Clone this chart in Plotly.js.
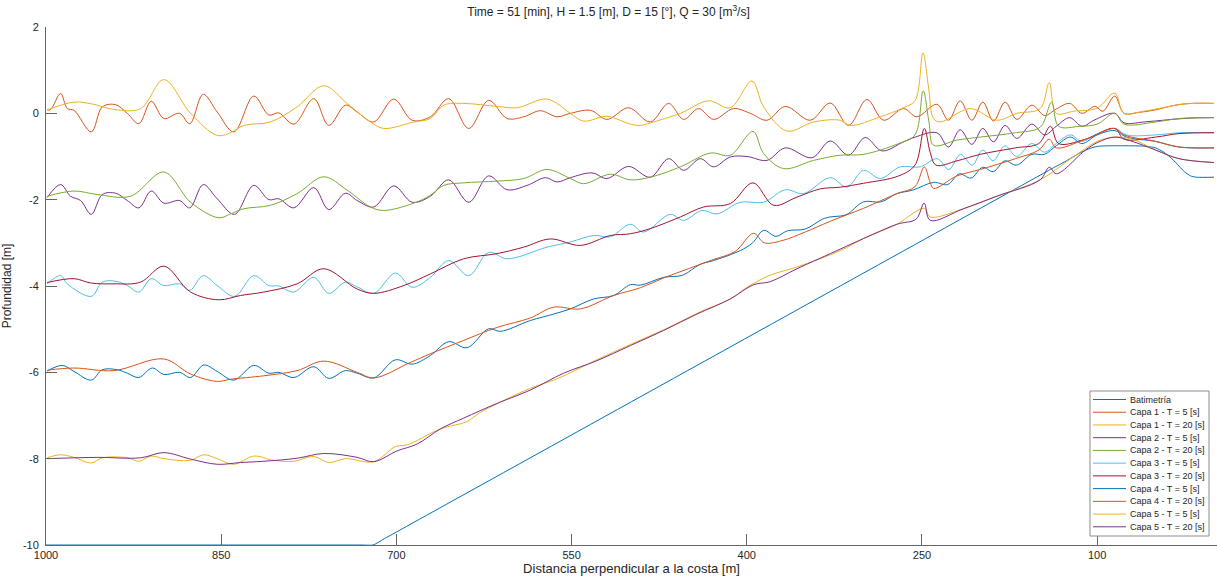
<!DOCTYPE html>
<html>
<head>
<meta charset="utf-8">
<script src="https://cdn.plot.ly/plotly-3.0.1.min.js"></script>
<style>html,body{margin:0;padding:0;background:#fff;}#chart{width:1217px;height:580px;}</style>
</head>
<body>
<div id="chart"></div>
<script>
// ---------- data (distance [m], depth [m]) ----------
const seriesNames = ["Batimetría","Capa 1 - T = 5 [s]","Capa 1 - T = 20 [s]","Capa 2 - T = 5 [s]","Capa 2 - T = 20 [s]","Capa 3 - T = 5 [s]","Capa 3 - T = 20 [s]","Capa 4 - T = 5 [s]","Capa 4 - T = 20 [s]","Capa 5 - T = 5 [s]","Capa 5 - T = 20 [s]"];
const seriesColors = ["#0072BD","#D95319","#EDB120","#7E2F8E","#77AC30","#4DBEEE","#A2142F","#0072BD","#D95319","#EDB120","#7E2F8E"];
const xTicks = [1000,850,700,550,400,250,100];
const yTicks = [-10,-8,-6,-4,-2,0,2];

const batX = [1000,730,720,710,160,140,125,115,105,98,60,50,43,36,30,25,20,15,0];
const batY = [-10,-10,-10,-9.85,-1.6,-1.3,-1.08,-0.92,-0.8,-0.76,-0.76,-0.8,-0.9,-1.05,-1.22,-1.36,-1.45,-1.48,-1.48];

const c1t5X = [999,996,987.5,981.8,976,961.2,951.8,940.4,930.4,920.5,909.9,899.1,885.7,876.9,865.4,853.4,839.2,822.1,809.2,800.7,787.8,770.7,757.9,743.6,733.6,719.4,702.3,686.5,670.9,655.2,638.1,621,605.2,591,576.7,562.4,551,533.9,519.6,501.2,482.6,466.9,454.1,441.3,428.4,411.3,397,382.7,367,345.6,328.5,312.9,297.1,282.9,265.8,254.4,237.2,227.3,217.3,207.3,197.9,188.8,178.8,168.8,155.9,145,135,123.5,113,102,95,85,77,65,50,35,20,0];
const c1t5Y = [0.08,0.09,0.46,0.11,0.07,-0.43,0.15,0.20,0.0,-0.24,0.28,-0.12,0.0,-0.24,0.44,0.03,-0.43,0.40,-0.04,0.01,-0.25,0.34,-0.28,0.19,0.03,-0.20,0.33,-0.16,-0.08,0.34,-0.35,0.30,-0.12,-0.08,0.06,-0.08,0.0,0.07,-0.14,0.13,-0.20,0.23,-0.14,0.11,-0.14,0.11,0.0,-0.16,0.16,-0.16,0.24,-0.28,0.32,-0.16,0.11,-0.08,0.21,-0.16,0.29,-0.16,0.26,-0.18,0.26,-0.14,0.19,-0.05,0.1,0.23,0.0,0.16,0.05,0.4,0.0,0.02,0.08,0.18,0.23,0.23];

const c1t20X = [999,976,961,941.9,919,899.1,876.2,853.4,842,830.6,807.8,785,762.2,742.2,722.2,710.8,685.1,670.9,659.5,642.4,613.8,596.7,571,551,539.7,519.6,499.7,491,482.6,456.9,432.7,414.1,395.6,385.6,365.6,342.8,320,311.4,285.7,265.8,255.8,249.2,244.4,240.1,234.4,208.7,185.9,168.8,148.8,141,135,120,100,85,77,60,40,25,0];
const c1t20Y = [0.08,0.26,0.22,0.09,0.11,0.78,0.0,-0.51,-0.45,-0.28,-0.2,0.15,0.64,0.23,-0.2,-0.35,-0.2,-0.12,0.19,0.23,0.16,0.13,0.33,0.0,-0.18,-0.07,-0.25,-0.28,-0.22,0.0,0.29,0.13,0.75,0.15,-0.41,-0.2,-0.16,-0.28,-0.08,0.13,0.3,1.40,0.61,-0.12,-0.2,0.11,-0.16,0.0,0.11,0.71,0.0,0.05,0.12,0.47,0.0,0.05,0.15,0.22,0.23];

const c2t5X = [999,987.5,979,970.4,961.2,951.8,940.4,930.4,920.5,909.9,899.1,885.7,876.9,865.4,853.4,838.6,822.1,809.2,800.7,787.8,770.7,757.9,743.6,733.6,719.4,702.3,686.5,670.9,655.2,638.1,621,605.2,588.1,572.4,562.4,551,532.5,519.6,501.2,482.6,466.9,454.1,439.8,428.4,414.1,399.8,382.7,367,344.2,328.5,312.9,298.6,284.3,265.8,255.8,237.2,227.3,217.3,207.3,197.9,188.8,178.8,168.8,155.9,145,135,123.5,113,102,85,77,60,40,20,0];
const c2t5Y = [-1.95,-1.65,-1.92,-2.02,-2.34,-1.88,-1.85,-2.02,-2.19,-1.80,-2.08,-2.02,-2.19,-1.65,-1.98,-2.34,-1.67,-2.0,-1.98,-2.19,-1.72,-2.23,-1.85,-2.02,-2.17,-1.68,-2.06,-1.92,-1.54,-2.06,-1.45,-1.77,-1.67,-1.49,-1.59,-1.49,-1.38,-1.51,-1.23,-1.48,-1.05,-1.32,-1.05,-1.24,-1.01,-1.0,-1.09,-0.80,-1.03,-0.64,-0.97,-0.56,-0.87,-0.66,-0.55,-0.45,-0.78,-0.38,-0.72,-0.35,-0.66,-0.28,-0.58,-0.25,-0.5,-0.3,-0.1,-0.3,-0.15,0.0,-0.22,-0.2,-0.15,-0.11,-0.1];

const c2t20X = [999,976,956.1,927.6,899.1,876.2,852,842,830.6,807.8,785,762.2,742.2,722.2,710.8,685.1,670.9,659.5,642.4,613.8,591,571,551,539.7,516.8,499.7,482.6,456.9,431.2,414.1,394.7,385.6,368.5,342.8,320,300,270,256,249,244,240,220,200,170,148.8,139,133,115,100,85,77,50,30,0];
const c2t20Y = [-1.92,-1.80,-1.88,-1.92,-1.36,-2.06,-2.42,-2.33,-2.21,-2.13,-1.86,-1.47,-1.78,-2.17,-2.25,-2.08,-1.90,-1.67,-1.61,-1.57,-1.51,-1.30,-1.51,-1.63,-1.41,-1.54,-1.48,-1.24,-0.92,-0.97,-0.42,-0.93,-1.28,-1.09,-0.97,-0.95,-0.7,-0.5,0.52,-0.2,-0.74,-0.62,-0.55,-0.45,-0.32,0.26,-0.3,-0.3,-0.25,0.0,-0.25,-0.2,-0.12,-0.1];

const c3t5X = [999,987.5,981.8,961.2,951.8,940.4,930.4,920.5,909.9,899.1,885.7,876.9,865.4,853.4,838.6,822.1,809.2,800.7,787.8,770.7,757.9,743.6,733.6,719.4,700.8,686.5,670.9,655.2,638.1,621,605.2,571,551,531.1,516.8,499.7,488.3,465.5,454.1,438.3,425.5,405.6,385.6,367,351.4,328.5,314.2,300,285.7,268.6,251.5,237,227,217,207,198,189,179,169,156,145,135,123,113,102,85,75,50,30,0];
const c3t5Y = [-3.95,-3.76,-3.95,-4.24,-3.91,-3.89,-3.99,-4.14,-3.83,-3.99,-3.95,-4.10,-3.76,-3.99,-4.24,-3.76,-3.99,-4.0,-4.14,-3.80,-4.17,-3.91,-4.02,-4.17,-3.70,-4.03,-3.80,-3.41,-3.76,-3.22,-3.37,-3.10,-2.98,-2.83,-2.86,-2.57,-2.75,-2.34,-2.48,-2.25,-2.33,-2.06,-2.06,-1.77,-1.86,-1.49,-1.71,-1.32,-1.51,-1.24,-1.24,-1.05,-1.3,-0.95,-1.2,-0.85,-1.1,-0.75,-1.0,-0.7,-0.9,-0.7,-0.5,-0.65,-0.5,-0.35,-0.5,-0.5,-0.45,-0.45];

const c3t20X = [999,976,961.8,941.9,919,899.1,876.2,852,833.5,813.5,785,762.2,733.6,719.4,693.7,670.9,642.4,613.8,591,568.2,542.5,516.8,499.7,482.6,456.9,437,414.1,394.7,377,357,337.1,320,300,270,256,248,243,238,220,200,170,150,140,133,110,85,77,50,30,0];
const c3t20Y = [-3.92,-3.83,-3.93,-3.95,-3.91,-3.54,-4.14,-4.32,-4.22,-4.14,-3.95,-3.60,-4.07,-4.17,-3.99,-3.72,-3.37,-3.25,-3.10,-2.91,-3.06,-2.83,-2.79,-2.67,-2.40,-2.17,-2.09,-1.61,-2.13,-1.94,-1.75,-1.71,-1.62,-1.45,-1.2,-0.35,-0.9,-1.2,-1.1,-0.95,-0.8,-0.7,-0.3,-0.7,-0.6,-0.35,-0.6,-0.55,-0.47,-0.45];

const c4t5X = [999,986,976,961.2,951.8,939,930.4,920.5,909,899.1,885.7,876.2,864.9,853.4,839.2,822.1,809.2,800.7,787.8,770.7,757.9,743.6,733.6,719.4,700.8,686.5,670.9,655.2,639.5,621,611,585.3,565.3,551,531.1,514,499.7,491.1,471.2,455,440,428.4,405.6,395,385.6,375,365,350,335,328.5,315,300,285,271.5,258,240,228,218,208,198,189,179,169,156,145,135,123,113,100,85,75,50,30,0];
const c4t5Y = [-5.97,-5.84,-5.98,-6.18,-5.94,-5.94,-6.02,-6.12,-5.90,-6.05,-6.0,-6.12,-5.83,-5.98,-6.18,-5.84,-6.02,-6.0,-6.12,-5.87,-6.14,-5.96,-6.02,-6.13,-5.71,-5.81,-5.61,-5.29,-5.43,-4.99,-5.05,-4.80,-4.65,-4.53,-4.30,-4.22,-3.97,-3.98,-3.80,-3.75,-3.5,-3.41,-3.18,-3.0,-2.71,-2.85,-2.72,-2.68,-2.45,-2.40,-2.35,-2.05,-2.05,-1.86,-1.78,-1.6,-1.65,-1.4,-1.5,-1.25,-1.35,-1.1,-1.2,-0.95,-0.95,-0.75,-0.55,-0.7,-0.5,-0.4,-0.55,-0.65,-0.78,-0.8];

const c4t20X = [999,976,941.9,899.1,876.2,853.4,842,813.5,785,762.2,733.6,719.4,688,670.9,642.4,613.8,585.3,565.3,542.5,514,491.1,470,450,430,410,394.2,385,370,350,328.5,300,271.5,256,248,243,240,220,200,170,150,141,135,110,85,77,50,30,0];
const c4t20Y = [-5.95,-5.90,-5.96,-5.69,-6.04,-6.21,-6.16,-6.08,-5.96,-5.74,-6.0,-6.13,-5.77,-5.57,-5.26,-4.96,-4.74,-4.49,-4.53,-4.22,-4.04,-3.8,-3.6,-3.4,-3.2,-2.78,-3.0,-2.95,-2.75,-2.5,-2.2,-1.86,-1.7,-1.24,-1.6,-1.74,-1.45,-1.3,-1.05,-0.85,-0.6,-0.8,-0.6,-0.35,-0.5,-0.65,-0.78,-0.8];

const c5t5X = [999,987.5,976,961.2,951.8,930,920.5,909.9,899.1,876.9,864.9,853.4,839.2,822.1,805,787.8,770.7,757.9,743.6,719.4,700.8,690.8,662.3,639.5,628.1,585.3,562.4,530,500,470,440,414,399.8,380,357,320,300,271.5,248,243,214.5,185.9,148.8,120,100,85,70,50,30,0];
const c5t5Y = [-7.98,-7.91,-7.97,-8.10,-7.98,-7.98,-8.06,-7.94,-8.0,-8.04,-7.91,-8.0,-8.13,-7.94,-8.04,-8.06,-7.95,-8.09,-8.0,-8.07,-7.72,-7.68,-7.31,-7.14,-6.93,-6.37,-6.15,-5.73,-5.36,-5.0,-4.6,-4.3,-4.03,-3.75,-3.56,-3.18,-2.9,-2.57,-2.2,-2.4,-2.21,-1.92,-1.54,-1.0,-0.65,-0.55,-0.6,-0.85,-1.05,-1.14];

const c5t20X = [999,956.1,919,899.1,876.2,853.4,833.5,813.5,785,762.2,733.6,719.4,699.4,682.2,662.3,642.4,613.8,585.3,556.8,528.2,499.7,471.2,442.6,414.1,394.2,380,357,328.5,300,271.5,255,248.1,243,214.5,185.9,148.8,141,135,110,100,85,70,50,30,0];
const c5t20Y = [-8.0,-7.97,-7.98,-7.86,-8.01,-8.13,-8.09,-8.06,-7.99,-7.88,-7.97,-8.07,-7.82,-7.66,-7.31,-7.06,-6.72,-6.41,-6.02,-5.73,-5.38,-5.03,-4.65,-4.30,-3.97,-3.9,-3.6,-3.25,-2.90,-2.57,-2.45,-2.08,-2.48,-2.21,-1.92,-1.54,-1.25,-1.4,-0.85,-0.68,-0.55,-0.65,-0.85,-1.05,-1.14];

const allX = [batX,c1t5X,c1t20X,c2t5X,c2t20X,c3t5X,c3t20X,c4t5X,c4t20X,c5t5X,c5t20X];
const allY = [batY,c1t5Y,c1t20Y,c2t5Y,c2t20Y,c3t5Y,c3t20Y,c4t5Y,c4t20Y,c5t5Y,c5t20Y];

// ---------- traces ----------
const traces = allX.map((xs, i) => ({
  x: xs, y: allY[i], name: seriesNames[i], type: 'scatter', mode: 'lines',
  line: {color: seriesColors[i], width: 1, shape: 'spline', smoothing: i === 0 ? 0.6 : 1},
  showlegend: false, hoverinfo: 'skip'
}));

// ---------- manual MATLAB-style legend ----------
const W = 1217, H = 580, mL = 46, mR = 0, mT = 27, mB = 35;
const pw = W - mL - mR, ph = H - mT - mB;
const px2x = p => (p - mL) / pw;
const py2y = p => (H - mB - p) / ph;
const shapes = [{type: 'rect', xref: 'paper', yref: 'paper', x0: px2x(1090), x1: px2x(1209), y0: py2y(536), y1: py2y(391), line: {color: '#8c8c8c', width: 1}, fillcolor: '#ffffff', layer: 'above'}];
const annotations = [];
seriesNames.forEach((n, i) => {
  const yy = 399.5 + i * 12.73;
  shapes.push({type: 'line', xref: 'paper', yref: 'paper', x0: px2x(1093), x1: px2x(1126), y0: py2y(yy), y1: py2y(yy), line: {color: seriesColors[i], width: 1}, layer: 'above'});
  annotations.push({xref: 'paper', yref: 'paper', x: px2x(1128), y: py2y(yy), text: n, showarrow: false, xanchor: 'left', yanchor: 'middle', font: {family: 'Liberation Sans, Arial, sans-serif', size: 9, color: '#262626'}});
});

const layout = {
  width: W, height: H,
  margin: {l: mL, r: mR, t: mT, b: mB, pad: 0},
  paper_bgcolor: '#ffffff', plot_bgcolor: '#ffffff',
  font: {family: 'Liberation Sans, Arial, sans-serif', size: 11, color: '#262626'},
  title: {text: 'Time = 51 [min], H = 1.5 [m], D = 15 [°], Q = 30 [m<sup>3</sup>/s]', x: 0.5, xanchor: 'center', y: 0.987, yanchor: 'top', font: {size: 12, color: '#262626'}},
  xaxis: {range: [1000, -2.6], tickvals: xTicks, ticktext: xTicks.map(String), ticks: 'inside', ticklen: 11, tickcolor: '#666', showline: true, linecolor: '#666', linewidth: 1, showgrid: false, zeroline: false, mirror: false,
          title: {text: 'Distancia perpendicular a la costa [m]', standoff: 1, font: {size: 13}}, tickfont: {size: 11}},
  yaxis: {range: [-10, 2], tickvals: yTicks, ticktext: yTicks.map(String), ticks: 'inside', ticklen: 11, tickcolor: '#666', showline: true, linecolor: '#666', linewidth: 1, showgrid: false, zeroline: false, mirror: false,
          ticklabelstandoff: 4,
          title: {text: 'Profundidad [m]', standoff: 8, font: {size: 12}}, tickfont: {size: 11}},
  shapes: shapes, annotations: annotations, showlegend: false
};

Plotly.newPlot('chart', traces, layout, {displayModeBar: false, staticPlot: true});
</script>
</body>
</html>
